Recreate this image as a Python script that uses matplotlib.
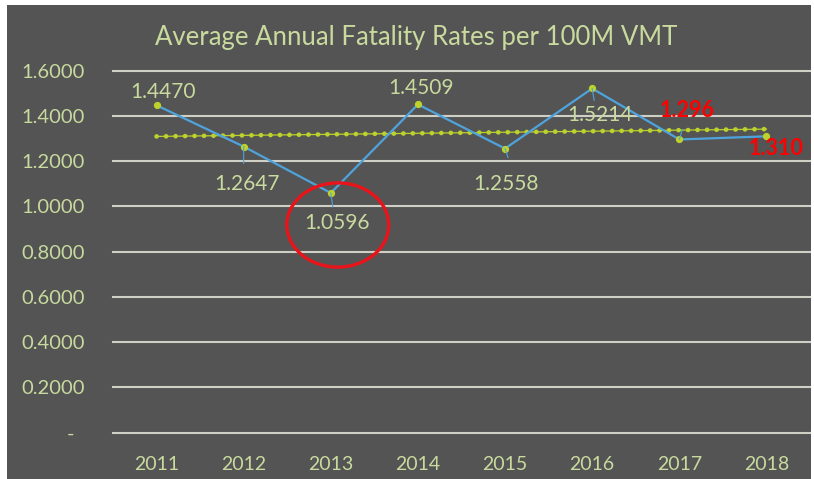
import numpy as np
import matplotlib
matplotlib.use("Agg")
import matplotlib.pyplot as plt
from matplotlib.patches import Ellipse, Rectangle
from matplotlib.ticker import FuncFormatter

plt.rcParams['font.family'] = ['Lato', 'DejaVu Sans']

# ─── data ─────────────────────────────────────────
years = ["2011", "2012", "2013", "2014", "2015", "2016", "2017", "2018"]
rates = [1.4470, 1.2647, 1.0596, 1.4509, 1.2558, 1.5214, 1.296, 1.310]
point_labels = ["1.4470", "1.2647", "1.0596", "1.4509", "1.2558", "1.5214", "1.296", "1.310"]
y_ticks = [0.0, 0.2, 0.4, 0.6, 0.8, 1.0, 1.2, 1.4, 1.6]

# label offsets from each point, pixels (dx, dy)
label_offsets = [(6, 13), (3, -37), (6, -30), (3, 16), (1, -35), (8, -27), (8, 29), (10, -12)]
red_labels = {6, 7}
# short blue leader lines: index -> (dx, dy) end in pixels
leaders = {1: (0, -17), 2: (2, -14), 4: (3, -9), 5: (2, -12), 6: (3, 10)}

BG = '#545454'
TXT = '#c8da9e'
GRID = '#cfcfc6'
BLUE = '#4fa3dc'
LIME = '#bdd22c'

fig = plt.figure(figsize=(8.14, 4.79), dpi=100)
fig.patch.set_facecolor('white')
fig.patches.append(Rectangle((7 / 814, 0), 804 / 814, 1 - 5 / 479,
                             transform=fig.transFigure, facecolor=BG,
                             edgecolor='none', zorder=-10))

ax = fig.add_axes([113 / 814, 1 - 432.7 / 479, 697 / 814, 362 / 479])
ax.set_facecolor('none')
for sp in ax.spines.values():
    sp.set_visible(False)

x = np.arange(len(years))
ax.set_xlim(-0.5, len(years) - 0.5)
ax.set_ylim(0, 1.6)

for t in y_ticks:
    ax.axhline(t, color=GRID, lw=1.5, zorder=1, clip_on=False)

# trendline (linear fit, like excel)
k, b = np.polyfit(x, rates, 1)
trend = k * x + b
ax.plot(x, trend, color=LIME, lw=0.9, zorder=2)
ax.plot(x, trend, color=LIME, lw=3.4, linestyle=(0, (0.01, 2.0)),
        dash_capstyle='round', zorder=2)

ax.plot(x, rates, color=BLUE, lw=1.6, zorder=3,
        marker='o', markersize=4.2, markerfacecolor=LIME, markeredgecolor=LIME)

for i, (xi, yi) in enumerate(zip(x, rates)):
    dx, dy = label_offsets[i]
    if i in red_labels:
        ax.annotate(point_labels[i], (xi, yi), xytext=(dx, dy), textcoords='offset pixels',
                    ha='center', va='center', fontsize=15.5, fontweight='bold', color='#ff0000', zorder=5)
    else:
        ax.annotate(point_labels[i], (xi, yi), xytext=(dx, dy), textcoords='offset pixels',
                    ha='center', va='center', fontsize=15, color=TXT, zorder=5)
    if i in leaders:
        lx, ly = leaders[i]
        ax.annotate('', (xi, yi), xytext=(lx, ly), textcoords='offset pixels',
                    arrowprops=dict(arrowstyle='-', color=BLUE, lw=0.8,
                                    shrinkA=0, shrinkB=0), zorder=3)

# red circle around 2013 value
ax.add_patch(Ellipse((2.08, 0.918), 1.17, 0.372, fill=False,
                     edgecolor='#e8141a', lw=2.4, zorder=6))

ax.set_xticks(x)
ax.set_xticklabels(years)
ax.set_yticks(y_ticks)
ax.yaxis.set_major_formatter(FuncFormatter(lambda v, p: '-  ' if v == 0 else f'{v:.4f}'))
ax.tick_params(axis='both', length=0, colors=TXT)
ax.tick_params(axis='y', pad=20, labelsize=14.5)
ax.tick_params(axis='x', pad=17, labelsize=14)

fig.text(416 / 814, 1 - 37 / 479, "Average Annual Fatality Rates per 100M VMT",
         ha='center', va='center', fontsize=18.5, color=TXT)

fig.savefig('out.png', dpi=100, facecolor=fig.get_facecolor())
